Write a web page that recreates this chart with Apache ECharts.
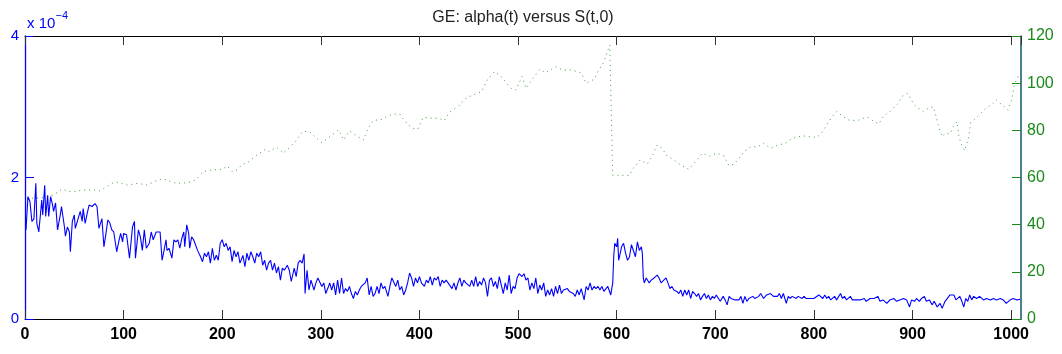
<!DOCTYPE html>
<html>
<head>
<meta charset="utf-8">
<script src="https://cdn.jsdelivr.net/npm/echarts@6/dist/echarts.min.js"></script>
<style>
html,body{margin:0;padding:0;background:#fff;}
#chart{width:1062px;height:354px;}
</style>
</head>
<body>
<div id="chart"></div>
<script>
// ---- data ----
var titleText = 'GE: alpha(t) versus S(t,0)';
var xTicks = [0, 100, 200, 300, 400, 500, 600, 700, 800, 900, 1000];
var leftTicks = [0, 2, 4];          // alpha, in units of 1e-4
var rightTicks = [0, 20, 40, 60, 80, 100, 120];

// alpha(t), values in units of 1e-4  [t, value]
var alphaE4 = [
[1,1.26],[3,1.73],[5,1.66],[7,1.38],[9,1.41],[11,1.92],[12,1.35],[14,1.23],[17,1.68],[18,1.47],[20,1.89],[21,1.45],[23,1.75],[24,1.45],[26,1.73],[28,1.61],[29,1.52],[31,1.64],[33,1.26],[36,1.49],[37,1.59],[40,1.30],[41,1.17],[43,1.30],[45,1.23],[46,0.95],[48,1.38],[50,1.47],[51,1.28],[53,1.26],[56,1.52],[58,1.38],[59,1.56],[61,1.35],[63,1.49],[65,1.61],[68,1.59],[71,1.63],[73,1.59],[75,1.28],[77,1.26],[78,1.42],[80,1.02],[82,1.20],[84,1.40],[86,1.36],[88,1.26],[90,1.23],[93,0.95],[95,1.09],[97,1.21],[99,1.09],[100,1.21],[103,1.19],[106,0.86],[109,1.30],[111,1.38],[112,0.86],[115,1.26],[117,1.16],[119,0.97],[121,1.26],[123,1.00],
[126,1.07],[128,1.23],[130,1.12],[133,1.23],[135,1.21],[137,1.23],[139,0.83],[141,0.97],[143,1.12],[144,0.97],[146,1.00],[149,0.86],[151,1.12],[153,1.09],[155,1.12],[157,1.00],[159,1.14],[161,1.23],[162,1.02],[164,1.33],[166,1.21],[167,1.00],[169,1.16],[171,1.12],[173,1.12],[175,0.97],[178,0.88],[180,0.81],[182,0.93],[184,0.88],[186,0.95],[188,0.79],[190,1.00],[192,0.83],[194,0.90],[196,0.83],[198,1.07],[200,1.12],[202,1.02],[204,1.07],[206,0.97],[208,1.02],[210,0.81],[212,0.97],[214,0.88],[216,0.95],[218,0.79],[221,0.90],[223,0.74],[225,0.93],[227,0.83],[229,0.95],[231,0.88],[233,0.79],[235,0.93],[237,0.88],[239,0.95],[241,0.76],[243,0.83],[245,0.69],[247,0.79],
[249,0.83],[251,0.69],[253,0.79],[255,0.65],[257,0.74],[259,0.55],[261,0.72],[263,0.69],[266,0.76],[268,0.69],[270,0.53],[273,0.72],[275,0.60],[277,0.79],[279,0.83],[281,0.79],[283,0.92],[284,0.36],[286,0.69],[288,0.41],[290,0.55],[293,0.41],[295,0.51],[297,0.58],[299,0.58],[301,0.46],[303,0.51],[305,0.36],[307,0.43],[309,0.51],[311,0.41],[313,0.51],[315,0.34],[317,0.55],[319,0.36],[321,0.58],[323,0.36],[325,0.43],[327,0.39],[329,0.46],[331,0.36],[333,0.29],[335,0.39],[337,0.34],[339,0.41],[341,0.46],[343,0.48],[345,0.51],[347,0.58],[349,0.34],[351,0.46],[353,0.32],[355,0.36],[357,0.46],[359,0.36],[361,0.51],[363,0.43],[365,0.46],[368,0.32],[370,0.46],[372,0.58],
[374,0.58],[376,0.46],[378,0.55],[380,0.41],[382,0.46],[384,0.34],[386,0.41],[388,0.51],[390,0.65],[392,0.58],[394,0.46],[396,0.58],[398,0.51],[400,0.60],[402,0.51],[405,0.46],[407,0.55],[409,0.51],[411,0.60],[413,0.48],[415,0.58],[417,0.55],[419,0.60],[421,0.46],[423,0.55],[425,0.51],[427,0.55],[429,0.51],[431,0.53],[433,0.43],[435,0.51],[437,0.41],[439,0.51],[441,0.58],[443,0.46],[445,0.55],[447,0.51],[449,0.53],[451,0.46],[453,0.55],[455,0.46],[457,0.60],[459,0.46],[461,0.53],[463,0.48],[465,0.58],[467,0.51],[469,0.32],[471,0.55],[473,0.58],[475,0.46],[477,0.53],[479,0.43],[481,0.60],[483,0.48],[485,0.36],[487,0.51],[489,0.41],[491,0.62],[493,0.36],[495,0.46],[497,0.43],[499,0.58],
[501,0.64],[504,0.60],[506,0.64],[508,0.55],[510,0.58],[512,0.41],[514,0.51],[516,0.43],[518,0.58],[520,0.36],[522,0.48],[524,0.41],[526,0.51],[528,0.32],[530,0.41],[532,0.34],[534,0.43],[536,0.32],[538,0.46],[540,0.36],[542,0.48],[544,0.36],[546,0.41],[548,0.39],[550,0.43],[552,0.39],[554,0.41],[556,0.36],[558,0.32],[560,0.41],[562,0.34],[564,0.43],[567,0.27],[569,0.46],[571,0.41],[573,0.51],[575,0.41],[577,0.46],[579,0.43],[581,0.46],[583,0.41],[585,0.46],[587,0.39],[589,0.41],[591,0.46],[593,0.48],[594,0.34],[596,0.51],[597,0.88],[598,1.07],[600,1.02],[601,1.14],[602,0.83],[604,0.83],[605,1.02],[607,1.07],[609,0.93],[611,0.83],[613,0.88],[615,1.05],[617,1.07],[619,0.88],[621,1.09],[623,0.97],
[625,1.02],[626,0.93],[627,0.58],[628,0.51],[630,0.58],[633,0.51],[635,0.55],[638,0.58],[641,0.62],[643,0.58],[645,0.51],[647,0.53],[650,0.58],[652,0.51],[654,0.43],[656,0.46],[658,0.41],[661,0.39],[663,0.36],[665,0.41],[667,0.32],[669,0.41],[671,0.34],[673,0.41],[675,0.29],[677,0.39],[679,0.36],[681,0.32],[683,0.36],[685,0.27],[687,0.32],[689,0.36],[691,0.29],[693,0.34],[695,0.27],[697,0.32],[699,0.29],[701,0.34],[703,0.32],[705,0.25],[708,0.32],[710,0.27],[712,0.20],[714,0.32],[716,0.29],[718,0.29],[720,0.27],[722,0.29],[724,0.27],[726,0.32],[728,0.22],[730,0.32],[732,0.25],[734,0.29],[736,0.27],[738,0.32],[740,0.29],[742,0.27],[744,0.32],[746,0.36],[749,0.29],
[750,0.27],[752,0.34],[754,0.32],[756,0.36],[759,0.32],[761,0.34],[763,0.32],[765,0.36],[767,0.29],[769,0.36],[771,0.34],[772,0.22],[774,0.32],[776,0.29],[778,0.32],[780,0.34],[782,0.29],[784,0.32],[786,0.34],[788,0.29],[790,0.32],[792,0.29],[794,0.27],[796,0.29],[798,0.27],[800,0.29],[802,0.27],[805,0.34],[807,0.32],[809,0.29],[811,0.34],[813,0.29],[815,0.32],[817,0.27],[819,0.29],[821,0.32],[823,0.27],[825,0.29],[827,0.36],[829,0.29],[831,0.32],[833,0.27],[835,0.29],[837,0.32],[839,0.27],[841,0.29],[843,0.27],[845,0.29],[847,0.27],[849,0.25],[851,0.29],[853,0.25],[855,0.27],[857,0.29],[859,0.27],[861,0.29],[863,0.27],[865,0.32],[867,0.25],[870,0.27],
[874,0.22],[877,0.27],[881,0.29],[884,0.25],[887,0.27],[891,0.29],[894,0.27],[897,0.17],[899,0.27],[902,0.25],[904,0.29],[907,0.25],[909,0.29],[912,0.32],[914,0.25],[917,0.27],[920,0.20],[922,0.25],[925,0.17],[928,0.22],[930,0.15],[933,0.25],[935,0.27],[938,0.34],[940,0.32],[942,0.34],[944,0.27],[946,0.29],[948,0.32],[950,0.25],[952,0.17],[954,0.29],[956,0.25],[958,0.34],[960,0.27],[962,0.32],[965,0.29],[968,0.32],[972,0.27],[975,0.29],[979,0.27],[982,0.29],[985,0.27],[989,0.29],[992,0.27],[995,0.22],[999,0.27],[1002,0.29],[1006,0.27],[1009,0.28]
];

// S(t,0)  [t, value]
var stockS = [
[2,51.2],[17,51.3],[29,52.6],[37,55],[48,53.8],[58,54.7],[71,54.7],[76,54.3],[88,57.5],[93,58],[104,56.8],[114,57.5],[124,56.8],[135,59],[140,59.4],[145,58.7],[154,57.5],[165,57.8],[173,59],[181,62.5],[189,63.2],[200,63.5],[205,64.9],[210,62.5],[215,63.2],[220,65.3],[227,66.7],[235,69.5],[244,72],[248,71],[255,72.8],[262,70.3],[269,73],[274,75.2],[282,79.7],[289,79.2],[294,77.3],[301,74.8],[307,76.6],[318,80.2],[323,75.9],[329,79.7],[338,77.3],[343,75.9],[348,80.9],[353,84.1],[362,84.7],[368,86.1],[375,86.9],[380,86.9],[383,85.1],[388,82.7],[393,80.9],[398,80.4],[404,85.5],[414,85.1],[420,85.1],[425,84.1],[431,87.9],[439,90],[447,93.6],[454,95],[463,96.4],[469,101.6],[476,104.9],[483,102.8],[488,100.2],[493,97.8],[498,97.1],[504,102.8],[508,97.8],[515,102],[522,105.9],[528,104.4],[538,107],[545,105.6],[554,105.6],[564,104.4],[569,100],[577,101.6],[582,105.6],[587,109],[593,116.2],[595,116.9],[596,61],[606,60.9],[613,60.9],[616,63.5],[624,67.5],[631,65.7],[636,69.1],[641,73.8],[646,72.4],[651,69.1],[658,67.4],[665,65.3],[673,63.5],[680,66.7],[687,70.3],[694,69.1],[702,70.3],[709,69.1],[714,64.9],[719,65.7],[724,68.1],[729,71],[736,73],[743,73],[749,74.5],[756,72.4],[764,73.8],[771,74.5],[778,76.6],[788,77.7],[796,77.3],[803,77],[808,79],[813,82.3],[818,85.5],[823,87.9],[829,86.1],[835,84.4],[844,84.1],[850,85.1],[855,85.5],[861,83.7],[866,82.7],[869,85.1],[874,87.2],[877,87.9],[886,91.7],[889,94.3],[895,95.7],[901,91.2],[906,89.3],[911,87.9],[916,89.3],[921,90],[924,85.8],[926,82.3],[930,77.3],[933,78.7],[938,78.5],[941,81.3],[945,83.7],[947,77.6],[949,74.5],[953,71.4],[955,74.5],[957,77.3],[959,83.3],[964,85.1],[969,87.2],[974,89.3],[980,90.8],[985,92.9],[992,90.3],[997,88.6],[1001,93.6],[1003,99.2],[1007,102.8],[1010,104]
];

// ---- chart ----
var chart = echarts.init(document.getElementById('chart'), null, {renderer: 'canvas'});
var FONT = '"Liberation Sans", Arial, Helvetica, sans-serif';
var GRID = {left: 25, right: 41, top: 36, bottom: 35};
var BLUE = '#0000ff';
var GREEN = '#1a8a1a';

var xBase = {
  type: 'value', min: 0, max: 1010, interval: 100,
  splitLine: {show: false},
  axisLine: {show: true, onZero: false, lineStyle: {color: '#000', width: 1}},
  axisTick: {show: true, inside: true, length: 9, lineStyle: {color: '#333', width: 1}}
};

chart.setOption({
  animation: false,
  backgroundColor: '#fff',
  grid: {left: GRID.left, right: GRID.right, top: GRID.top, bottom: GRID.bottom, containLabel: false},
  xAxis: [
    Object.assign({}, xBase, {
      position: 'bottom',
      axisLabel: {
        show: true, margin: 8, color: '#000', fontSize: 16, fontWeight: 'bold', fontFamily: FONT,
        showMaxLabel: false,
        formatter: function (v) { return xTicks.indexOf(v) >= 0 ? String(v) : ''; }
      }
    }),
    Object.assign({}, xBase, {
      position: 'top',
      axisLabel: {show: false}
    })
  ],
  yAxis: [
    {
      type: 'value', position: 'left', min: leftTicks[0], max: leftTicks[leftTicks.length - 1], interval: 2,
      splitLine: {show: false},
      axisLine: {show: true, onZero: false, lineStyle: {color: BLUE, width: 1.3}},
      axisTick: {show: true, inside: true, length: 9, lineStyle: {color: BLUE, width: 1}},
      axisLabel: {margin: 6, color: BLUE, fontSize: 15, fontFamily: FONT}
    },
    {
      type: 'value', position: 'right', min: rightTicks[0], max: rightTicks[rightTicks.length - 1], interval: 20,
      splitLine: {show: false},
      axisLine: {show: true, onZero: false, lineStyle: {color: '#1d5f7a', width: 1.6}},
      axisTick: {show: true, inside: true, length: 9, lineStyle: {color: GREEN, width: 1}},
      axisLabel: {margin: 6, color: GREEN, fontSize: 16, fontFamily: FONT}
    }
  ],
  graphic: [
    {type: 'text', x: 523, y: 18,
     style: {text: titleText, fill: '#222', font: '16px ' + FONT, align: 'center', verticalAlign: 'middle'}},
    {type: 'text', x: 27, y: 24,
     style: {text: 'x 10', fill: BLUE, font: '15px ' + FONT, align: 'left', verticalAlign: 'middle'}},
    {type: 'text', x: 55.5, y: 16,
     style: {text: '\u22124', fill: BLUE, font: '11px ' + FONT, align: 'left', verticalAlign: 'middle'}}
  ],
  series: [
    {
      name: 'S(t,0)', type: 'line', xAxisIndex: 0, yAxisIndex: 1,
      data: stockS, symbol: 'none', smooth: false, z: 2,
      lineStyle: {color: '#2a942a', width: 1, type: [1, 4], opacity: 0.9}
    },
    {
      name: 'alpha(t)', type: 'line', xAxisIndex: 0, yAxisIndex: 0,
      data: alphaE4, symbol: 'none', smooth: false, z: 3,
      lineStyle: {color: BLUE, width: 1.1}
    }
  ]
});
</script>
</body>
</html>
